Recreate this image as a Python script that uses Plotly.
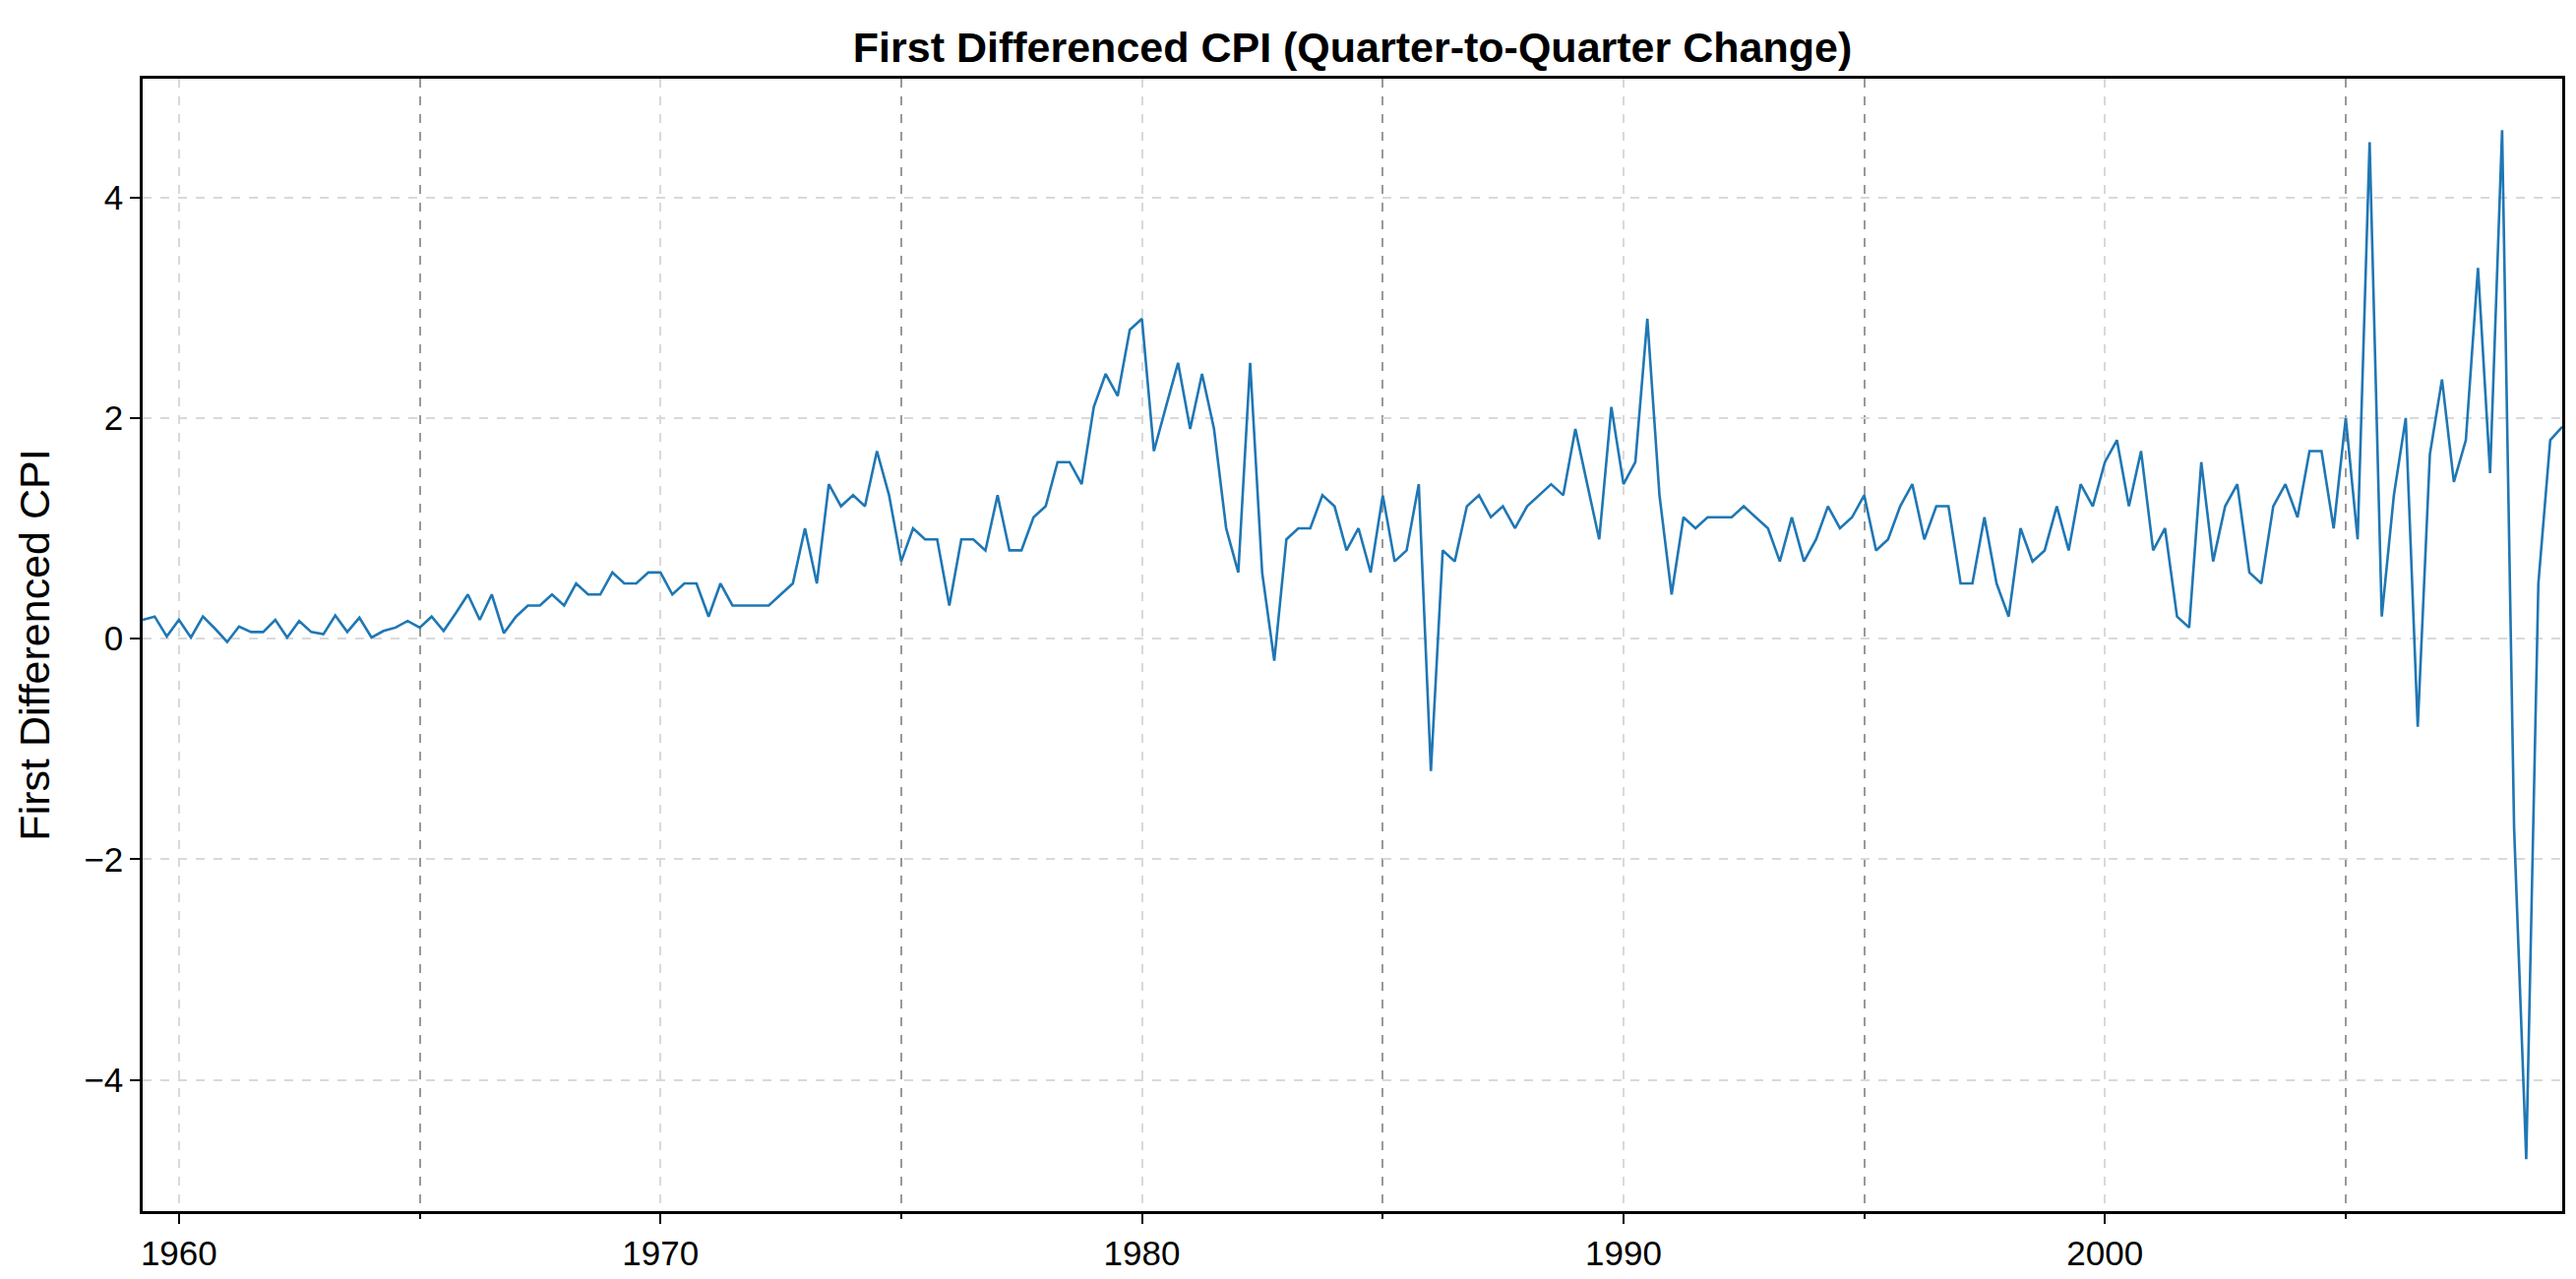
import pandas as pd
import plotly.graph_objects as go

# Quarter-to-quarter change in CPI (1959Q2 .. 2009Q3)
diff_1950s = [0.17, 0.20, 0.02]
diff_1960s = [0.17, 0.01, 0.20, 0.09, -0.03, 0.11, 0.06, 0.06, 0.17, 0.01, 0.16, 0.06,
              0.04, 0.21, 0.06, 0.19, 0.01, 0.07, 0.10, 0.16, 0.10, 0.20, 0.07, 0.23,
              0.40, 0.17, 0.40, 0.05, 0.2, 0.3, 0.3, 0.4, 0.3, 0.5, 0.4, 0.4,
              0.6, 0.5, 0.5, 0.6]
diff_1970s = [0.6, 0.4, 0.5, 0.5, 0.2, 0.5, 0.3, 0.3, 0.3, 0.3, 0.4, 0.5,
              1.0, 0.5, 1.4, 1.2, 1.3, 1.2, 1.7, 1.3, 0.7, 1.0, 0.9, 0.9,
              0.3, 0.9, 0.9, 0.8, 1.3, 0.8, 0.8, 1.1, 1.2, 1.6, 1.6, 1.4,
              2.1, 2.4, 2.2, 2.8]
diff_1980s = [2.9, 1.7, 2.1, 2.5, 1.9, 2.4, 1.9, 1.0, 0.6, 2.5, 0.6, -0.2,
              0.9, 1.0, 1.0, 1.3, 1.2, 0.8, 1.0, 0.6, 1.3, 0.7, 0.8, 1.4,
              -1.2, 0.8, 0.7, 1.2, 1.3, 1.1, 1.2, 1.0, 1.2, 1.3, 1.4, 1.3,
              1.9, 1.4, 0.9, 2.1]
diff_1990s = [1.4, 1.6, 2.9, 1.3, 0.4, 1.1, 1.0, 1.1, 1.1, 1.1, 1.2, 1.1,
              1.0, 0.7, 1.1, 0.7, 0.9, 1.2, 1.0, 1.1, 1.3, 0.8, 0.9, 1.2,
              1.4, 0.9, 1.2, 1.2, 0.5, 0.5, 1.1, 0.5, 0.2, 1.0, 0.7, 0.8,
              1.2, 0.8, 1.4, 1.2]
diff_2000s = [1.6, 1.8, 1.2, 1.7, 0.8, 1.0, 0.2, 0.1, 1.6, 0.7, 1.2, 1.4,
              0.6, 0.5, 1.2, 1.4, 1.1, 1.7, 1.7, 1.0, 2.0, 0.9, 4.5, 0.2,
              1.3, 2.0, -0.8, 1.67, 2.35, 1.42, 1.80, 3.36, 1.50, 4.61, -1.72, -4.72,
              0.50, 1.80, 1.92]

values = diff_1950s + diff_1960s + diff_1970s + diff_1980s + diff_1990s + diff_2000s
dates = pd.date_range("1959-04-01", periods=len(values), freq="QS")

FONT = "Liberation Sans, Arial, sans-serif"

fig = go.Figure()
fig.add_trace(go.Scatter(x=dates, y=values, mode="lines",
                         line=dict(color="#1f77b4", width=2.6), showlegend=False))

fig.update_layout(
    width=2618, height=1300,
    paper_bgcolor="white", plot_bgcolor="white",
    margin=dict(l=137, r=22, t=72, b=77, autoexpand=False),
    font=dict(family=FONT, size=35, color="black"),
    title=dict(text="<b>First Differenced CPI (Quarter-to-Quarter Change)</b>",
               x=(137 + 2596) / 2 / 2618, xanchor="center", xref="container",
               y=1 - 40 / 1300, yanchor="middle", automargin=False,
               font=dict(size=43, family=FONT, color="black")),
)

fig.update_xaxes(
    type="date", range=[dates[0], dates[-1]], automargin=False,
    tick0="1960-01-01", dtick="M120", tickformat="%Y",
    ticks="outside", ticklen=10, tickwidth=2, tickcolor="black",
    showline=True, linecolor="black", linewidth=2.5, mirror=True,
    showgrid=True, gridcolor="#d9d9d9", gridwidth=2, griddash="dash",
    zeroline=False,
    tickfont=dict(size=35, family=FONT),
    minor=dict(tick0="1965-01-01", dtick="M120", ticks="outside", ticklen=5, tickwidth=2,
               tickcolor="black", showgrid=True, gridcolor="#999999", gridwidth=2.2,
               griddash="dash"),
)
fig.update_yaxes(
    range=[-5.19, 5.076], tick0=0, dtick=2, automargin=False,
    ticks="outside", ticklen=10, tickwidth=2, tickcolor="black",
    showline=True, linecolor="black", linewidth=2.5, mirror=True,
    showgrid=True, gridcolor="#d9d9d9", gridwidth=2, griddash="dash",
    zeroline=False,
    tickfont=dict(size=35, family=FONT),
    title=dict(text="First Differenced CPI", font=dict(size=43, family=FONT), standoff=22),
)

fig.write_html("out.html")
